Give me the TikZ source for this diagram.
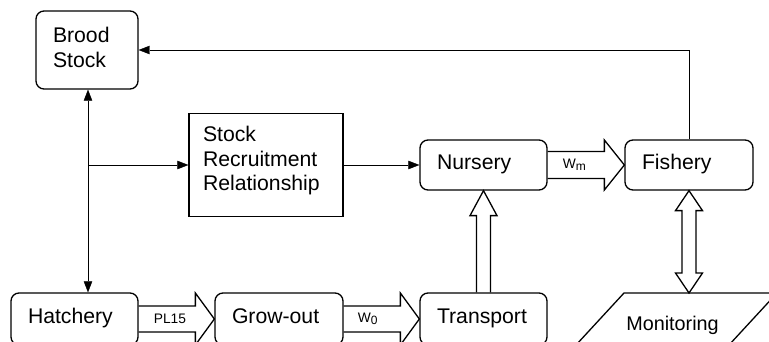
\documentclass[tikz,border=0pt]{standalone}
\usepackage{fontspec}
\setmainfont{Liberation Sans}
\usetikzlibrary{arrows.meta,calc,backgrounds}
\newcommand\mainsz{\fontsize{21.2}{24.3}\selectfont}
\newcommand\monsz{\fontsize{19.8}{23}\selectfont}
\newcommand\lblsz{\fontsize{13.8}{16}\selectfont}
\newcommand\subsc[1]{\raisebox{-2.5pt}{\fontsize{12}{12}\selectfont #1}}
% horizontal hollow arrow, left to right
\newcommand\hollowR[5]{\filldraw[hollow] let \p1=(#1), \p2=(#2) in
  (\x1,\y1+#3pt) -- (\x2-#5pt,\y1+#3pt) -- (\x2-#5pt,\y1+#4pt) -- (\x2,\y1)
  -- (\x2-#5pt,\y1-#4pt) -- (\x2-#5pt,\y1-#3pt) -- (\x1,\y1-#3pt);}
% vertical hollow arrow, pointing up
\newcommand\hollowU[5]{\filldraw[hollow] let \p1=(#1), \p2=(#2) in
  (\x1-#3pt,\y1) -- (\x1-#3pt,\y2-#5pt) -- (\x1-#4pt,\y2-#5pt) -- (\x1,\y2)
  -- (\x1+#4pt,\y2-#5pt) -- (\x1+#3pt,\y2-#5pt) -- (\x1+#3pt,\y1);}
% vertical double-headed hollow arrow, #1 upper tip, #2 lower tip
\newcommand\hollowUD[5]{\filldraw[hollow] let \p1=(#1), \p2=(#2) in
  (\x1,\y1) -- (\x1+#4pt,\y1-#5pt) -- (\x1+#3pt,\y1-#5pt) -- (\x1+#3pt,\y2+#5pt)
  -- (\x1+#4pt,\y2+#5pt) -- (\x1,\y2) -- (\x1-#4pt,\y2+#5pt) -- (\x1-#3pt,\y2+#5pt)
  -- (\x1-#3pt,\y1-#5pt) -- (\x1-#4pt,\y1-#5pt) -- cycle;}
\begin{document}
\begin{tikzpicture}[x=1pt,y=-1pt,line width=1.3pt,
  box/.style={draw,rounded corners=8pt,inner xsep=17pt,inner ysep=0pt,
    align=left,font=\mainsz,text height=15pt},
  plainbox/.style={draw,inner xsep=14pt,inner ysep=0pt,align=left,
    font=\mainsz,text height=15pt},
  hollow/.style={draw=black,fill=white,line width=1.3pt},
  lbl/.style={font=\lblsz,inner sep=0pt,anchor=west},
  arr/.style={-{Triangle[length=11pt,width=8.5pt]}}]
\useasboundingbox (0,0) rectangle (769,342);
\clip (0,0) rectangle (769,342);

% boxes
\node[box,text width=68pt,minimum height=78pt,text depth=29pt] (brood) at (87,50) {Brood\\Stock};
\node[plainbox,text width=126pt,minimum height=103pt,text depth=61pt] (srr) at (266,165) {Stock\\Recruitment\\Relationship};
\node[box,text width=93pt,minimum height=50pt,text depth=5pt] (nursery) at (483.5,165) {Nursery};
\node[box,text width=94pt,minimum height=50pt,text depth=5pt] (fishery) at (689,165) {Fishery};
\node[box,text width=93pt,minimum height=52pt,text depth=6pt] (hatch) at (74.5,319) {Hatchery};
\node[box,text width=94pt,minimum height=52pt,text depth=6pt] (grow) at (279,319) {Grow-out};
\node[box,text width=93pt,minimum height=52pt,text depth=6pt] (transport) at (483.5,319) {Transport};

% monitoring (parallelogram)
\draw (576,345) -- (624,293) -- (777,293) -- (729,345);
\node[font=\monsz,inner sep=0pt,anchor=base] (mon) at (672.5,330) {Monitoring};
\coordinate (montop) at (fishery.south |- 0,293);

% hollow arrows (behind boxes)
\begin{pgfonlayer}{background}
\hollowR{hatch.east}{grow.west}{13}{26}{19}
\hollowR{grow.east}{transport.west}{13}{26}{19}
\hollowR{nursery.east}{fishery.west}{13.5}{25}{20}
\hollowU{transport.north}{nursery.south}{7}{13.5}{25}
\hollowUD{fishery.south}{montop}{7}{13.5}{20}
\end{pgfonlayer}

% labels on hollow arrows
\node[lbl] (l1) at ([xshift=15pt]hatch.east) {PL15};
\node[lbl] (l2) at ([xshift=14pt]grow.east) {W\subsc{0}};
\node[lbl] (l3) at ([xshift=15pt]nursery.east) {W\subsc{m}};

% connectors
\coordinate (j) at (88,0 |- srr.west);
\draw[arr] (j) -- (j |- brood.south);
\draw[arr] (j) -- (j |- hatch.north);
\draw[arr] (j) -- (srr.west);
\draw[arr] (srr.east) -- (nursery.west);
\draw[arr] (fishery.north) |- (brood.east);
\end{tikzpicture}
\end{document}
